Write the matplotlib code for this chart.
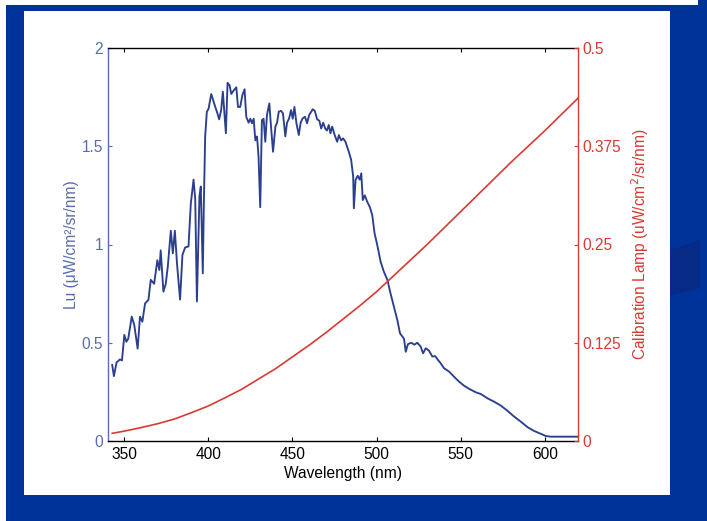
import matplotlib
matplotlib.use("Agg")
import matplotlib.pyplot as plt
from matplotlib.patches import Rectangle, Polygon

# figure size in pixels (dpi 100)
W, H = 707, 521

# ---- data ----
# Lu spectrum (left axis)
lu_nm = [343.0, 344.0, 345.6, 347.6, 348.8, 350.2, 351.4, 352.5, 354.6, 356.1,
         358.1, 359.5, 360.9, 362.5, 364.5, 365.9, 367.9, 369.8, 371.0, 371.8,
         373.4, 374.8, 376.0, 377.8, 379.0, 380.2, 381.5, 383.3, 384.7, 386.3,
         388.3, 389.7, 391.3, 392.3, 393.3, 394.8, 395.6, 396.8, 397.4, 398.2,
         399.2, 400.2, 401.8, 403.2, 404.2, 405.5, 406.5, 407.7, 408.7, 410.5,
         411.5, 412.7, 413.7, 414.8, 416.7, 417.7, 419.0, 420.3, 421.6, 422.6,
         424.0, 425.0, 426.0, 427.0, 428.0, 429.0, 429.9, 430.9, 431.9, 432.9,
         433.9, 434.9, 436.3, 437.3, 438.5, 439.9, 440.9, 441.9, 443.3, 444.4,
         445.8, 446.8, 448.0, 449.2, 450.2, 451.2, 452.4, 453.8, 454.9, 456.1,
         457.5, 458.7, 460.0, 462.1, 463.3, 464.7, 466.0, 467.1, 468.3, 469.5,
         470.5, 471.6, 472.6, 473.6, 475.1, 476.6, 477.6, 478.9, 480.1, 481.5,
         483.5, 484.9, 486.1, 486.5, 487.5, 488.8, 490.0, 490.9, 491.8, 493.0,
         494.4, 496.0, 497.4, 498.8, 500.4, 502.4, 504.3, 506.4, 508.3, 510.3,
         512.3, 513.9, 516.3, 517.3, 518.6, 520.6, 522.4, 524.2, 526.2, 527.6,
         529.2, 531.1, 533.1, 534.8, 536.5, 538.1, 540.1, 543.1, 546.0, 549.0,
         552.0, 555.0, 558.9, 561.9, 565.9, 569.8, 573.8, 577.8, 581.7, 585.7,
         589.7, 593.6, 597.6, 600.6, 603.6, 619.5]
lu_val = [0.387, 0.33, 0.40, 0.415, 0.41, 0.54, 0.505, 0.52, 0.633, 0.59,
          0.47, 0.633, 0.607, 0.70, 0.718, 0.82, 0.80, 0.92, 0.87, 0.97,
          0.76, 0.80, 0.887, 1.07, 0.955, 1.07, 0.90, 0.72, 0.947, 0.985,
          0.99, 1.21, 1.33, 1.23, 0.71, 1.245, 1.295, 0.853, 1.20, 1.55,
          1.676, 1.69, 1.766, 1.727, 1.70, 1.667, 1.637, 1.684, 1.778, 1.566,
          1.823, 1.81, 1.766, 1.78, 1.80, 1.70, 1.70, 1.76, 1.79, 1.65,
          1.62, 1.64, 1.617, 1.64, 1.53, 1.55, 1.447, 1.19, 1.633, 1.64,
          1.523, 1.66, 1.718, 1.60, 1.472, 1.60, 1.62, 1.676, 1.68, 1.667,
          1.55, 1.62, 1.64, 1.684, 1.64, 1.70, 1.617, 1.557, 1.62, 1.642,
          1.65, 1.617, 1.66, 1.688, 1.68, 1.637, 1.63, 1.59, 1.62, 1.59,
          1.58, 1.608, 1.566, 1.60, 1.557, 1.523, 1.557, 1.53, 1.54, 1.523,
          1.472, 1.43, 1.345, 1.184, 1.328, 1.35, 1.33, 1.362, 1.226, 1.25,
          1.218, 1.19, 1.15, 1.057, 0.997, 0.912, 0.862, 0.82, 0.75, 0.683,
          0.616, 0.548, 0.52, 0.454, 0.493, 0.50, 0.49, 0.50, 0.48, 0.446,
          0.472, 0.46, 0.43, 0.432, 0.412, 0.395, 0.37, 0.353, 0.327, 0.302,
          0.281, 0.265, 0.248, 0.239, 0.217, 0.20, 0.18, 0.153, 0.124, 0.098,
          0.07, 0.051, 0.036, 0.025, 0.022, 0.022]

# calibration lamp (right axis)
lamp_nm = [343, 350, 360, 370, 380, 390, 400, 410, 420, 430, 440, 450, 460,
           470, 480, 490, 500, 510, 520, 530, 540, 550, 560, 570, 580, 590,
           600, 610, 620]
lamp_val = [0.0098, 0.0125, 0.017, 0.022, 0.028, 0.036, 0.0445, 0.055,
            0.066, 0.079, 0.092, 0.107, 0.122, 0.138, 0.155, 0.172, 0.190,
            0.210, 0.230, 0.250, 0.271, 0.292, 0.313, 0.334, 0.355, 0.375,
            0.395, 0.416, 0.437]

x_ticks = [350, 400, 450, 500, 550, 600]
left_ticks = [0, 0.5, 1, 1.5, 2]
left_labels = ["0", "0.5", "1", "1.5", "2"]
right_ticks = [0, 0.125, 0.25, 0.375, 0.5]
right_labels = ["0", "0.125", "0.25", "0.375", "0.5"]

BLUE = "#2b3f8e"
BLUE_AX = "#5b6cae"
RED = "#d93a34"
SLIDE = "#003399"
FS = 11.2

plt.rcParams["font.family"] = ["Liberation Sans", "DejaVu Sans"]


def px_rect(x0, y0, x1, y1):
    # pixel box (top-left origin) -> figure fraction rectangle
    return (x0 / W, 1 - y1 / H), (x1 - x0) / W, (y1 - y0) / H


fig = plt.figure(figsize=(W / 100, H / 100), dpi=100)
fig.patch.set_facecolor(SLIDE)

# slide decorations: white page margin, darker shape, white panel
for box in [(0, 0, 6, H), (0, 0, 698, 5)]:
    xy, w, h = px_rect(*box)
    fig.add_artist(Rectangle(xy, w, h, transform=fig.transFigure,
                             facecolor="white", edgecolor="none", zorder=0))
fig.add_artist(Polygon([(670 / W, 1 - 250 / H), (700 / W, 1 - 240 / H),
                        (700 / W, 1 - 288 / H), (670 / W, 1 - 296 / H)],
                       transform=fig.transFigure, facecolor="#062a86",
                       edgecolor="none", zorder=0))
xy, w, h = px_rect(24, 11, 670, 495)
fig.add_artist(Rectangle(xy, w, h, transform=fig.transFigure,
                         facecolor="white", edgecolor="none", zorder=0))

ax = fig.add_axes([108 / W, 1 - 441 / H, (578 - 108) / W, (441 - 48) / H])
ax.set_facecolor("none")
ax2 = ax.twinx()

ax.plot(lu_nm, lu_val, color=BLUE, lw=1.35)
ax2.plot(lamp_nm, lamp_val, color=RED, lw=1.2)

ax.set_xlim(340.5, 619.6)
ax.set_ylim(0, 2)
ax2.set_ylim(0, 0.5)

ax.set_xticks(x_ticks)
ax.set_yticks(left_ticks)
ax.set_yticklabels(left_labels)
ax2.set_yticks(right_ticks)
ax2.set_yticklabels(right_labels)

# spines
ax.spines["right"].set_visible(False)
for s in ["left", "top", "bottom"]:
    ax2.spines[s].set_visible(False)
ax.spines["left"].set_color(BLUE_AX)
ax2.spines["right"].set_color(RED)
for s in ["top", "bottom"]:
    ax.spines[s].set_color("black")
for sp in list(ax.spines.values()) + list(ax2.spines.values()):
    sp.set_linewidth(1.0)

ax.tick_params(axis="x", direction="in", top=True, length=3, width=0.8,
               labelsize=FS, pad=4, colors="black")
ax.tick_params(axis="y", direction="in", length=3, width=0.8, labelsize=FS,
               pad=3.5, colors=BLUE_AX)
ax2.tick_params(axis="y", direction="in", length=3, width=0.8, labelsize=FS,
                pad=3, colors=RED)

ax.set_xlabel("Wavelength (nm)", fontsize=FS, labelpad=3)
ax.set_ylabel("Lu (\u03bcW/cm\u00b2/sr/nm)", fontsize=FS, color=BLUE_AX,
              labelpad=2)
ax2.set_ylabel(r"Calibration Lamp (uW/cm$^2$/sr/nm)", fontsize=FS,
               color=RED, labelpad=6)

fig.savefig("out.png", dpi=100, facecolor=fig.get_facecolor())
